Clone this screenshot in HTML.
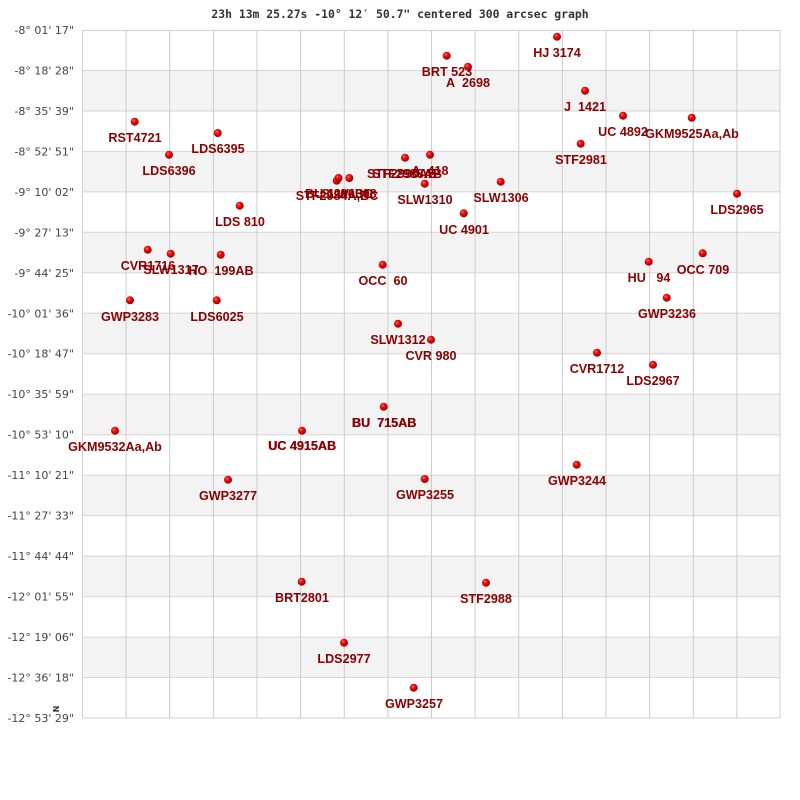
<!DOCTYPE html>
<html><head><meta charset="utf-8"><style>
html,body{margin:0;padding:0;background:#fff;}
svg{display:block;}
.t{font-family:"DejaVu Sans Mono","Liberation Mono",monospace;font-weight:bold;font-size:11.4px;fill:#333;}
.y{font-family:"DejaVu Sans","Liberation Sans",sans-serif;font-size:11px;fill:#444;}
.l{font-family:"Liberation Sans",Arial,sans-serif;font-weight:bold;font-size:12.6px;fill:#8b0000;}
</style></head><body>
<svg width="800" height="800" viewBox="0 0 800 800" xmlns="http://www.w3.org/2000/svg">
<defs>
<radialGradient id="g" cx="0.38" cy="0.35" r="0.65">
<stop offset="0" stop-color="#ff7a7a"/>
<stop offset="0.35" stop-color="#ee1111"/>
<stop offset="0.8" stop-color="#c00000"/>
<stop offset="1" stop-color="#800000"/>
</radialGradient>
</defs>
<rect x="0" y="0" width="800" height="800" fill="#fff"/>
<text class="t" x="400" y="18" text-anchor="middle">23h 13m 25.27s -10° 12′ 50.7" centered 300 arcsec graph</text>
<g fill="#f3f3f3">
<rect x="82" y="70.5" width="698" height="40.5"/>
<rect x="82" y="151.4" width="698" height="40.5"/>
<rect x="82" y="232.3" width="698" height="40.5"/>
<rect x="82" y="313.3" width="698" height="40.5"/>
<rect x="82" y="394.2" width="698" height="40.5"/>
<rect x="82" y="475.2" width="698" height="40.5"/>
<rect x="82" y="556.1" width="698" height="40.5"/>
<rect x="82" y="637.1" width="698" height="40.5"/>
</g>
<g stroke="#d6d6d6" stroke-width="1">
<line x1="82" y1="70.5" x2="780" y2="70.5"/>
<line x1="82" y1="111" x2="780" y2="111"/>
<line x1="82" y1="151.4" x2="780" y2="151.4"/>
<line x1="82" y1="191.9" x2="780" y2="191.9"/>
<line x1="82" y1="232.3" x2="780" y2="232.3"/>
<line x1="82" y1="272.8" x2="780" y2="272.8"/>
<line x1="82" y1="313.3" x2="780" y2="313.3"/>
<line x1="82" y1="353.7" x2="780" y2="353.7"/>
<line x1="82" y1="394.2" x2="780" y2="394.2"/>
<line x1="82" y1="434.7" x2="780" y2="434.7"/>
<line x1="82" y1="475.2" x2="780" y2="475.2"/>
<line x1="82" y1="515.6" x2="780" y2="515.6"/>
<line x1="82" y1="556.1" x2="780" y2="556.1"/>
<line x1="82" y1="596.6" x2="780" y2="596.6"/>
<line x1="82" y1="637.1" x2="780" y2="637.1"/>
<line x1="82" y1="677.5" x2="780" y2="677.5"/>
</g>
<g stroke="#cccccc" stroke-width="1">
<line x1="126.1" y1="30" x2="126.1" y2="718"/>
<line x1="169.7" y1="30" x2="169.7" y2="718"/>
<line x1="213.4" y1="30" x2="213.4" y2="718"/>
<line x1="257" y1="30" x2="257" y2="718"/>
<line x1="300.6" y1="30" x2="300.6" y2="718"/>
<line x1="344.3" y1="30" x2="344.3" y2="718"/>
<line x1="387.9" y1="30" x2="387.9" y2="718"/>
<line x1="431.5" y1="30" x2="431.5" y2="718"/>
<line x1="475.1" y1="30" x2="475.1" y2="718"/>
<line x1="518.8" y1="30" x2="518.8" y2="718"/>
<line x1="562.4" y1="30" x2="562.4" y2="718"/>
<line x1="606" y1="30" x2="606" y2="718"/>
<line x1="649.6" y1="30" x2="649.6" y2="718"/>
<line x1="693.3" y1="30" x2="693.3" y2="718"/>
<line x1="736.9" y1="30" x2="736.9" y2="718"/>
</g>
<rect x="82.5" y="30.5" width="697.5" height="687.5" fill="none" stroke="#d0d0d0" stroke-width="1"/>
<g class="y" text-anchor="end">
<text x="74" y="34">-8° 01' 17"</text>
<text x="74" y="74.5">-8° 18' 28"</text>
<text x="74" y="115">-8° 35' 39"</text>
<text x="74" y="155.4">-8° 52' 51"</text>
<text x="74" y="195.9">-9° 10' 02"</text>
<text x="74" y="236.3">-9° 27' 13"</text>
<text x="74" y="276.8">-9° 44' 25"</text>
<text x="74" y="317.3">-10° 01' 36"</text>
<text x="74" y="357.7">-10° 18' 47"</text>
<text x="74" y="398.2">-10° 35' 59"</text>
<text x="74" y="438.7">-10° 53' 10"</text>
<text x="74" y="479.2">-11° 10' 21"</text>
<text x="74" y="519.6">-11° 27' 33"</text>
<text x="74" y="560.1">-11° 44' 44"</text>
<text x="74" y="600.6">-12° 01' 55"</text>
<text x="74" y="641.1">-12° 19' 06"</text>
<text x="74" y="681.5">-12° 36' 18"</text>
<text x="74" y="722">-12° 53' 29"</text>
</g>
<text x="0" y="0" transform="translate(53,709) rotate(90)" font-family="DejaVu Sans,sans-serif" font-weight="bold" font-size="8" fill="#333" text-anchor="middle">N</text>
<g class="l" text-anchor="middle">
<text x="557" y="57">HJ 3174</text>
<text x="447" y="76">BRT 523</text>
<text x="468" y="87">A&#160;&#160;2698</text>
<text x="585" y="111">J&#160;&#160;1421</text>
<text x="623" y="136">UC 4892</text>
<text x="692" y="138">GKM9525Aa,Ab</text>
<text x="581" y="164">STF2981</text>
<text x="135" y="142">RST4721</text>
<text x="218" y="153">LDS6395</text>
<text x="169" y="175">LDS6396</text>
<text x="337" y="200">STF2984A,BC</text>
<text x="339" y="198">BU 1290BC</text>
<text x="349" y="198">SLW1308</text>
<text x="402" y="178">STF2990AB</text>
<text x="407" y="178">STF2988AB</text>
<text x="430" y="175">A&#160;&#160;418</text>
<text x="425" y="204">SLW1310</text>
<text x="501" y="202">SLW1306</text>
<text x="464" y="234">UC 4901</text>
<text x="240" y="226">LDS 810</text>
<text x="737" y="214">LDS2965</text>
<text x="148" y="270">CVR1716</text>
<text x="171" y="274">SLW1317</text>
<text x="221" y="275">HO&#160;&#160;199AB</text>
<text x="383" y="285">OCC&#160;&#160;60</text>
<text x="649" y="282">HU&#160;&#160;&#160;94</text>
<text x="703" y="274">OCC 709</text>
<text x="667" y="318">GWP3236</text>
<text x="130" y="321">GWP3283</text>
<text x="217" y="321">LDS6025</text>
<text x="398" y="344">SLW1312</text>
<text x="431" y="360">CVR 980</text>
<text x="597" y="373">CVR1712</text>
<text x="653" y="385">LDS2967</text>
<text x="384" y="427">BU&#160;&#160;715AB</text>
<text x="384.4" y="427">BU&#160;&#160;715AB</text>
<text x="115" y="451">GKM9532Aa,Ab</text>
<text x="302" y="450">UC 4915AB</text>
<text x="302.4" y="450">UC 4915AB</text>
<text x="228" y="500">GWP3277</text>
<text x="425" y="499">GWP3255</text>
<text x="577" y="485">GWP3244</text>
<text x="302" y="602">BRT2801</text>
<text x="486" y="603">STF2988</text>
<text x="344" y="663">LDS2977</text>
<text x="414" y="708">GWP3257</text>
</g>
<g fill="url(#g)">
<circle cx="557" cy="36.7" r="4"/>
<circle cx="446.7" cy="55.7" r="4"/>
<circle cx="468" cy="66.7" r="4"/>
<circle cx="585" cy="90.7" r="4"/>
<circle cx="623" cy="115.7" r="4"/>
<circle cx="691.7" cy="117.7" r="4"/>
<circle cx="580.7" cy="143.7" r="4"/>
<circle cx="134.7" cy="121.7" r="4"/>
<circle cx="217.7" cy="133" r="4"/>
<circle cx="169" cy="154.7" r="4"/>
<circle cx="336.7" cy="180.7" r="4"/>
<circle cx="338.5" cy="178" r="4"/>
<circle cx="349.3" cy="178" r="4"/>
<circle cx="405" cy="157.7" r="4"/>
<circle cx="430" cy="154.7" r="4"/>
<circle cx="424.7" cy="183.7" r="4"/>
<circle cx="500.7" cy="181.7" r="4"/>
<circle cx="463.7" cy="213.3" r="4"/>
<circle cx="239.7" cy="205.7" r="4"/>
<circle cx="737" cy="193.7" r="4"/>
<circle cx="147.7" cy="249.7" r="4"/>
<circle cx="170.7" cy="253.7" r="4"/>
<circle cx="220.7" cy="254.7" r="4"/>
<circle cx="382.7" cy="264.7" r="4"/>
<circle cx="648.7" cy="261.7" r="4"/>
<circle cx="702.7" cy="253.3" r="4"/>
<circle cx="666.7" cy="297.7" r="4"/>
<circle cx="130" cy="300.3" r="4"/>
<circle cx="216.7" cy="300.3" r="4"/>
<circle cx="398" cy="323.7" r="4"/>
<circle cx="431" cy="339.7" r="4"/>
<circle cx="597" cy="352.7" r="4"/>
<circle cx="653" cy="364.7" r="4"/>
<circle cx="383.7" cy="406.7" r="4"/>
<circle cx="115" cy="430.7" r="4"/>
<circle cx="302" cy="430.7" r="4"/>
<circle cx="228" cy="479.7" r="4"/>
<circle cx="424.7" cy="479" r="4"/>
<circle cx="576.7" cy="464.7" r="4"/>
<circle cx="301.7" cy="581.7" r="4"/>
<circle cx="486" cy="582.7" r="4"/>
<circle cx="344" cy="642.7" r="4"/>
<circle cx="413.7" cy="687.7" r="4"/>
</g>
</svg>
</body></html>
